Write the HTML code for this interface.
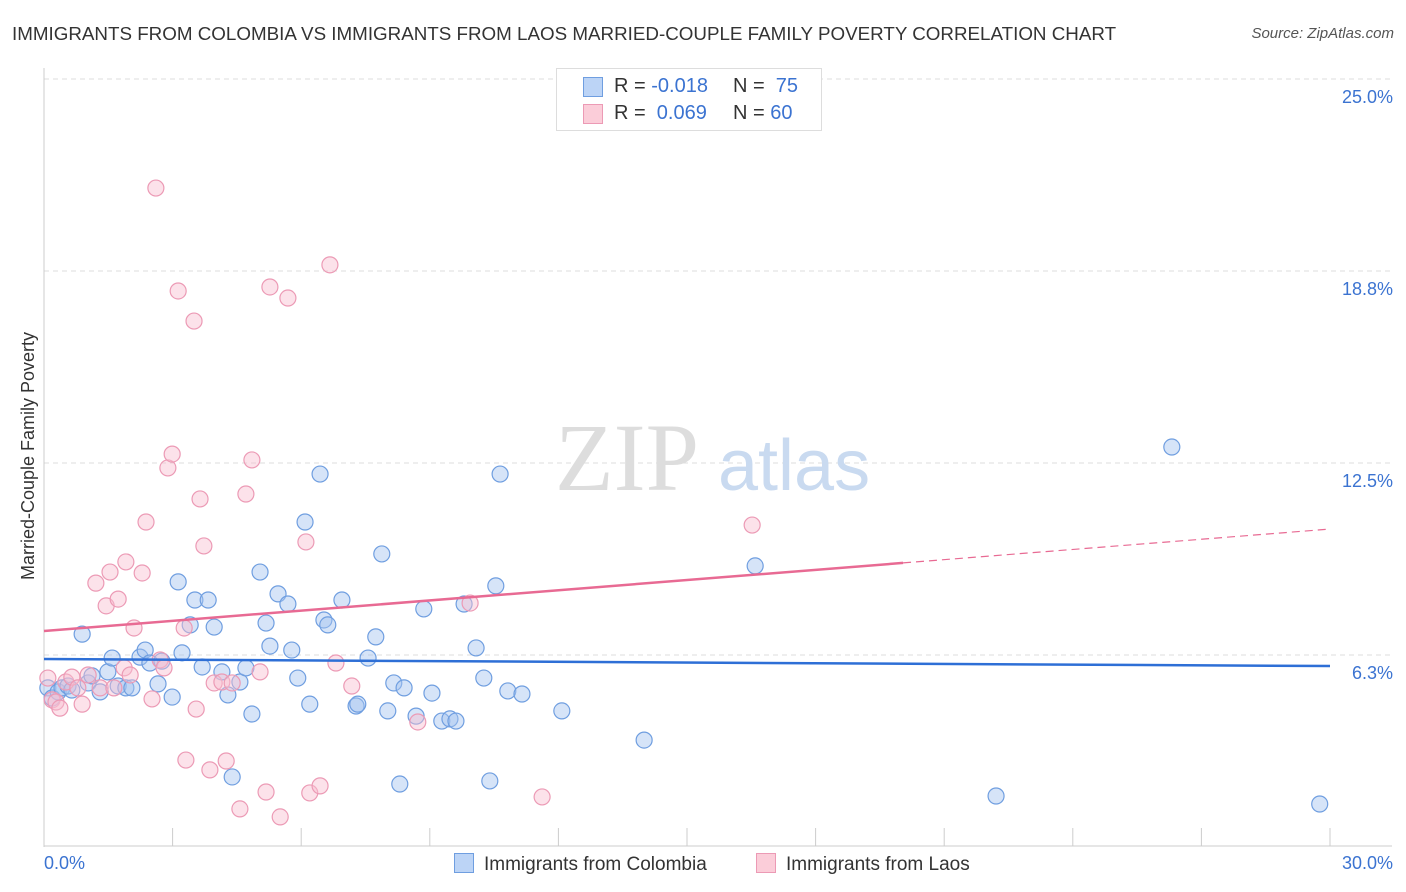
<!DOCTYPE html>
<html><head><meta charset="utf-8"><style>
body{margin:0;background:#fff;font-family:"Liberation Sans",sans-serif;}
#wrap{position:relative;width:1406px;height:892px;overflow:hidden;}
.t{position:absolute;white-space:nowrap;}
</style></head><body>
<div id="wrap">
<div class="t" style="left:12px;top:23px;font-size:18.8px;color:#333;">IMMIGRANTS FROM COLOMBIA VS IMMIGRANTS FROM LAOS MARRIED-COUPLE FAMILY POVERTY CORRELATION CHART</div>
<div class="t" style="right:12px;top:25px;font-size:15px;color:#555;font-style:italic;">Source: ZipAtlas.com</div>
<svg id="svg" width="1406" height="892" style="position:absolute;left:0;top:0"></svg>
</div>
<script>
const blueX=[0.09,0.19,0.33,0.42,0.56,0.65,0.89,1.03,1.12,1.31,1.49,1.59,1.73,1.91,2.05,2.24,2.36,2.47,2.66,2.75,2.99,3.13,3.22,3.41,3.52,3.69,3.83,3.97,4.15,4.29,4.39,4.57,4.71,4.85,5.04,5.18,5.27,5.46,5.69,5.78,5.92,6.20,6.44,6.53,6.62,6.09,6.95,7.28,7.32,7.56,7.74,7.88,8.02,8.16,8.30,8.40,8.68,8.86,9.05,9.28,9.47,9.61,9.80,10.08,10.26,10.40,10.54,10.64,10.82,11.15,12.08,14.00,16.59,22.21,29.76,26.31];
const blueY=[5.18,4.85,5.05,5.18,5.24,5.11,6.93,5.34,5.57,5.05,5.70,6.15,5.24,5.18,5.18,6.18,6.41,5.99,5.31,6.05,4.88,8.63,6.32,7.23,8.04,5.86,8.04,7.16,5.70,4.95,2.28,5.37,5.83,4.33,8.95,7.29,6.54,8.24,7.91,6.41,5.50,4.65,12.14,7.39,7.23,10.58,8.04,4.59,4.65,6.15,6.84,9.54,4.43,5.34,2.05,5.18,4.26,7.75,5.01,4.10,4.17,4.10,7.91,6.48,5.50,2.15,8.50,12.14,5.08,4.98,4.43,3.48,9.15,1.66,1.40,13.02];
const pinkX=[0.09,0.19,0.28,0.37,0.51,0.65,0.79,0.89,1.03,1.21,1.31,1.45,1.54,1.63,1.73,1.87,1.91,2.01,2.10,2.29,2.38,2.52,2.61,2.71,2.80,2.89,2.99,3.13,3.27,3.31,3.50,3.55,3.64,3.73,3.87,3.97,4.15,4.25,4.39,4.57,4.71,4.85,5.04,5.18,5.27,5.51,5.69,6.11,6.20,6.44,6.67,6.81,7.18,8.72,9.94,11.62,16.52];
const pinkY=[5.50,4.79,4.72,4.52,5.37,5.53,5.18,4.65,5.60,8.59,5.18,7.85,8.95,5.18,8.07,5.83,9.28,5.60,7.13,8.92,10.58,4.82,21.45,6.09,5.83,12.34,12.79,18.10,7.13,2.83,17.12,4.49,11.33,9.80,2.51,5.34,5.37,2.80,5.34,1.24,11.49,12.60,5.70,1.79,18.23,0.98,17.87,9.93,1.76,1.99,18.95,5.99,5.24,4.07,7.94,1.63,10.48];
const blueTrend=[6.12,5.89];
const pinkTrend=[7.03,10.35];
const pinkSolidEnd=20.04;
const yTicks=[25.0,18.8,12.5,6.3];
const yGrid=[25,18.75,12.5,6.25];
const xTicks=[0,3,6,9,12,15,18,21,24,27,30];

const X0=44,X1=1330,Y0=847,PPY=30.72;
const sx=v=>X0+(X1-X0)*v/30;
const sy=v=>Y0-v*PPY;
const svg=document.getElementById('svg');
const NS='http://www.w3.org/2000/svg';
function mk(tag,attrs,parent){const e=document.createElementNS(NS,tag);for(const k in attrs)e.setAttribute(k,attrs[k]);(parent||svg).appendChild(e);return e;}

yGrid.forEach((g,i)=>{
  const l=mk('line',{x1:44,x2:1392,y1:sy(g),y2:sy(g),stroke:'#ddd','stroke-dasharray':'5,4'});
  
  
  const t=mk('text',{x:1393,y:sy(g)+24,'text-anchor':'end','font-size':18,fill:'#3b73d1','font-family':'Liberation Sans,sans-serif'});
  t.textContent=yTicks[i].toFixed(1)+'%';
  
  
});
let ax=mk('line',{x1:44,x2:44,y1:68,y2:847,stroke:'#ccc'});


ax=mk('line',{x1:44,x2:1392,y1:846,y2:846,stroke:'#ccc'});


xTicks.forEach(v=>{
  const l=mk('line',{x1:sx(v),x2:sx(v),y1:828,y2:846,stroke:'#ccc'});
  
  
});
let xl=mk('text',{x:44,y:869,'font-size':18,fill:'#3b73d1','font-family':'Liberation Sans,sans-serif'});xl.textContent=xTicks[0].toFixed(1)+'%';


xl=mk('text',{x:1393,y:869,'text-anchor':'end','font-size':18,fill:'#3b73d1','font-family':'Liberation Sans,sans-serif'});xl.textContent=xTicks[xTicks.length-1].toFixed(1)+'%';


let yt=mk('text',{x:0,y:0,'font-size':18,fill:'#333',transform:'translate(34,456) rotate(-90)','text-anchor':'middle','font-family':'Liberation Sans,sans-serif'});
yt.textContent='Married-Couple Family Poverty';


let wm=mk('text',{x:555,y:490,'font-size':96,fill:'#ddd','font-family':'Liberation Serif,serif'});wm.textContent='ZIP';


wm=mk('text',{x:718,y:490,'font-size':72,fill:'#c9daf0','font-family':'Liberation Sans,sans-serif'});wm.textContent='atlas';



blueX.forEach((x,i)=>{
  const c=mk('circle',{cx:sx(x),cy:sy(blueY[i]),r:8,fill:'rgba(165,196,240,0.45)',stroke:'#6f9ee0','stroke-width':1.2});
  
  
});
pinkX.forEach((x,i)=>{
  const c=mk('circle',{cx:sx(x),cy:sy(pinkY[i]),r:8,fill:'rgba(248,190,208,0.45)',stroke:'#ec9ab5','stroke-width':1.2});
  
  
});
let tl=mk('line',{x1:sx(0),y1:sy(blueTrend[0]),x2:sx(30),y2:sy(blueTrend[1]),stroke:'#2e6fd6','stroke-width':2.5});


const pAt=v=>pinkTrend[0]+(pinkTrend[1]-pinkTrend[0])*v/30;
tl=mk('line',{x1:sx(0),y1:sy(pinkTrend[0]),x2:sx(pinkSolidEnd),y2:sy(pAt(pinkSolidEnd)),stroke:'#e86a93','stroke-width':2.5});


tl=mk('line',{x1:sx(pinkSolidEnd),y1:sy(pAt(pinkSolidEnd)),x2:sx(30),y2:sy(pinkTrend[1]),stroke:'#e86a93','stroke-width':1.2,'stroke-dasharray':'8,5'});


</script>
<div class="t" style="left:556px;top:68px;width:264px;height:61px;border:1px solid #ddd;background:#fff;font-size:20px;">
 <div style="position:absolute;left:26px;top:8px;width:18px;height:18px;background:#bcd4f6;border:1px solid #6f9ee0;"></div>
 <div class="t" style="left:57px;top:6px;color:#333;">R = <span style="color:#3b73d1">-0.018</span></div>
 <div class="t" style="left:176px;top:6px;color:#333;">N = &nbsp;<span style="color:#3b73d1">75</span></div>
 <div style="position:absolute;left:26px;top:35px;width:18px;height:18px;background:#fbcdd9;border:1px solid #ec9ab5;"></div>
 <div class="t" style="left:57px;top:33px;color:#333;">R = &nbsp;<span style="color:#3b73d1">0.069</span></div>
 <div class="t" style="left:176px;top:33px;color:#333;">N = <span style="color:#3b73d1">60</span></div>
</div>
<div class="t" style="left:454px;top:853px;font-size:19px;color:#333;"><span style="display:inline-block;width:18px;height:18px;background:#bcd4f6;border:1px solid #6f9ee0;vertical-align:-3px;margin-right:10px;"></span>Immigrants from Colombia</div>
<div class="t" style="left:756px;top:853px;font-size:19px;color:#333;"><span style="display:inline-block;width:18px;height:18px;background:#fbcdd9;border:1px solid #ec9ab5;vertical-align:-3px;margin-right:10px;"></span>Immigrants from Laos</div>
</body></html>
